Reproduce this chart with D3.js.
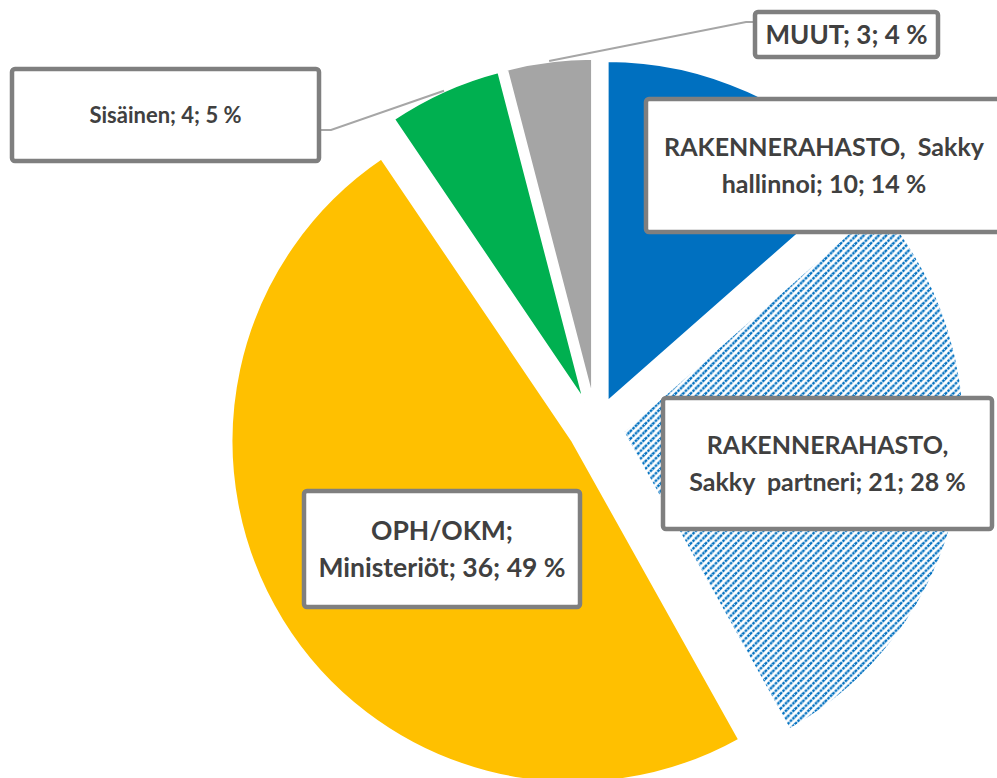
<!DOCTYPE html>
<html>
<head>
<meta charset="utf-8">
<script src="https://cdn.jsdelivr.net/npm/d3@7"></script>
<style>
  body { margin: 0; background: #fff; }
  svg { display: block; }
  text { font-family: Lato, "Open Sans", sans-serif; font-weight: bold; fill: #404040; white-space: pre; }
</style>
</head>
<body>
<script>
// data
var categories = ["RAKENNERAHASTO,  Sakky hallinnoi", "RAKENNERAHASTO, Sakky  partneri", "OPH/OKM; Ministeriöt", "Sisäinen", "MUUT"];
var values = [10, 21, 36, 4, 3];
var firstLines = ["RAKENNERAHASTO,  Sakky", "RAKENNERAHASTO,", "OPH/OKM;", null, null]; // where the label wraps

// styles
var colors = ["#0070C0", "url(#hatch)", "#FFC000", "#00B050", "#A5A5A5"];
var w = 997, h = 778;
var cx = 596, cy = 427, R = 342, explode = 27;

// label boxes (x, y, width, height), placed by hand like in the original
var boxes = [
  {x: 646, y: 99, w: 356, h: 133, size: 25},
  {x: 663, y: 398, w: 329, h: 131, size: 25},
  {x: 304, y: 491, w: 276, h: 116, size: 26.5},
  {x: 12, y: 69, w: 307, h: 92, size: 22},
  {x: 755, y: 12, w: 183, h: 45, size: 26}
];

var svg = d3.select("body").append("svg")
    .attr("width", w)
    .attr("height", h);

var defs = svg.append("defs");
var pat = defs.append("pattern")
    .attr("id", "hatch")
    .attr("patternUnits", "userSpaceOnUse")
    .attr("width", 7.5)
    .attr("height", 7.5);
pat.append("rect").attr("width", 7.5).attr("height", 7.5).attr("fill", "#fff");
pat.append("path")
    .attr("d", "M-1,1 l2,-2 M0,7.5 l7.5,-7.5 M6.5,8.5 l2,-2")
    .attr("stroke", "#0070C0")
    .attr("stroke-width", 2.4)
    .attr("stroke-dasharray", "2.6,0.9");

var total = d3.sum(values);
var pie = d3.pie().sort(null).value(function(d) { return d; });
var arcs = pie(values);
var arc = d3.arc().innerRadius(0).outerRadius(R);

function offset(d) {
  var a = (d.startAngle + d.endAngle) / 2;
  return [explode * Math.sin(a), -explode * Math.cos(a)];
}

var g = svg.append("g").attr("transform", "translate(" + cx + "," + cy + ")");

g.selectAll("path.slice")
  .data(arcs)
  .enter()
  .append("path")
    .attr("class", "slice")
    .attr("transform", function(d) { var o = offset(d); return "translate(" + o[0] + "," + o[1] + ")"; })
    .attr("d", arc)
    .attr("fill", function(d, i) { return colors[i]; })
    .attr("stroke", "#fff")
    .attr("stroke-width", 3);

// leader lines for the two small slices
[3, 4].forEach(function(i) {
  var d = arcs[i], o = offset(d);
  var a = (d.startAngle + d.endAngle) / 2;
  var px = cx + o[0] + R * Math.sin(a), py = cy + o[1] - R * Math.cos(a);
  var b = boxes[i], pts;
  if (i == 4) {
    pts = [[px, py], [b.x - 9, b.y + 10], [b.x, b.y + 10]];
  } else {
    pts = [[px, py], [b.x + b.w + 12, b.y + 61], [b.x + b.w, b.y + 61]];
  }
  svg.append("path")
    .attr("d", d3.line()(pts))
    .attr("fill", "none")
    .attr("stroke", "#A6A6A6")
    .attr("stroke-width", 2);
});

// data labels
arcs.forEach(function(d, i) {
  var b = boxes[i];
  var pct = Math.round(values[i] / total * 100);
  var full = categories[i] + "; " + values[i] + "; " + pct + " %";
  var lines = [full];
  if (firstLines[i]) lines = [firstLines[i], full.slice(firstLines[i].length).trim()];

  svg.append("rect")
    .attr("x", b.x).attr("y", b.y)
    .attr("width", b.w).attr("height", b.h)
    .attr("rx", 3)
    .attr("fill", "#fff")
    .attr("stroke", "#7F7F7F")
    .attr("stroke-width", 4.5);

  var lh = 37;
  var y0 = b.y + b.h / 2 - (lines.length - 1) * lh / 2 + b.size * 0.36;
  lines.forEach(function(t, j) {
    svg.append("text")
      .attr("x", b.x + b.w / 2)
      .attr("y", y0 + j * lh)
      .attr("text-anchor", "middle")
      .style("font-size", b.size + "px")
      .text(t);
  });
});
</script>
</body>
</html>
